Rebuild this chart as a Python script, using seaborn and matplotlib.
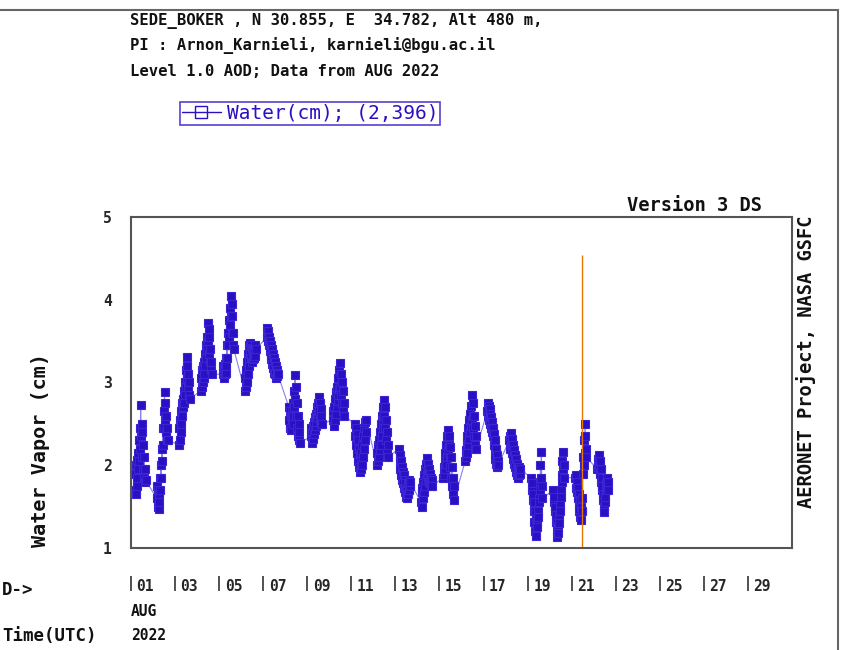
import matplotlib
matplotlib.use("Agg")
import pandas as pd
import seaborn as sns
from matplotlib import pyplot as plt
from matplotlib import transforms
from matplotlib.lines import Line2D

# sampling hours (UTC) of each day's readings, every half hour
hours = [4.0, 4.5, 5.0, 5.5, 6.0, 6.5, 7.0, 7.5, 8.0, 8.5, 9.0, 9.5, 10.0,
         10.5, 11.0, 11.5, 12.0, 12.5, 13.0, 13.5, 14.0, 14.5, 15.0, 15.5, 16.0]
days = list(range(1, 23))
# water vapour (cm), one row per day of August 2022
water = [
    [1.70, 1.90, 1.65, 2.00, 1.75, 2.06, 1.85, 2.15, 1.95, 2.30, 2.05, 2.45, 2.20, 2.73, 2.35, 2.50, 2.10, 2.40, 1.95, 2.25, 1.85, 2.10, 1.80, 1.95, 1.82],
    [1.60, 1.75, 1.50, 1.70, 1.47, 1.65, 1.55, 1.85, 1.70, 2.00, 1.85, 2.20, 2.05, 2.45, 2.25, 2.65, 2.45, 2.88, 2.55, 2.75, 2.40, 2.60, 2.30, 2.45, 2.30],
    [2.25, 2.45, 2.30, 2.55, 2.40, 2.65, 2.50, 2.75, 2.60, 2.80, 2.70, 2.90, 2.75, 3.00, 2.85, 3.15, 2.95, 3.31, 3.05, 3.20, 2.95, 3.10, 2.85, 3.00, 2.80],
    [2.90, 3.05, 2.95, 3.15, 3.00, 3.20, 3.05, 3.25, 3.10, 3.35, 3.20, 3.45, 3.30, 3.55, 3.40, 3.72, 3.50, 3.65, 3.35, 3.55, 3.25, 3.40, 3.15, 3.25, 3.10],
    [3.10, 3.20, 3.05, 3.18, 3.10, 3.22, 3.12, 3.30, 3.20, 3.45, 3.30, 3.60, 3.45, 3.75, 3.55, 3.90, 3.70, 4.05, 3.80, 3.95, 3.60, 3.80, 3.45, 3.60, 3.40],
    [2.90, 3.05, 2.95, 3.15, 3.00, 3.25, 3.10, 3.35, 3.20, 3.45, 3.30, 3.48, 3.35, 3.45, 3.30, 3.42, 3.25, 3.40, 3.28, 3.38, 3.30, 3.42, 3.32, 3.45, 3.40],
    [3.55, 3.66, 3.50, 3.62, 3.45, 3.55, 3.38, 3.50, 3.32, 3.45, 3.28, 3.40, 3.22, 3.35, 3.18, 3.30, 3.12, 3.25, 3.10, 3.20, 3.05, 3.15, 3.08, 3.12, 3.10],
    [2.70, 2.55, 2.65, 2.45, 2.60, 2.43, 2.55, 2.65, 2.50, 2.75, 2.60, 2.90, 2.70, 3.09, 2.80, 2.95, 2.60, 2.75, 2.45, 2.60, 2.35, 2.50, 2.30, 2.40, 2.27],
    [2.35, 2.45, 2.27, 2.40, 2.32, 2.48, 2.38, 2.52, 2.42, 2.58, 2.48, 2.62, 2.52, 2.70, 2.58, 2.75, 2.62, 2.83, 2.65, 2.75, 2.55, 2.68, 2.50, 2.60, 2.50],
    [2.55, 2.65, 2.48, 2.70, 2.55, 2.80, 2.62, 2.88, 2.70, 2.95, 2.78, 3.05, 2.85, 3.15, 2.92, 3.24, 2.95, 3.10, 2.85, 3.00, 2.75, 2.90, 2.65, 2.75, 2.60],
    [2.50, 2.35, 2.45, 2.25, 2.38, 2.15, 2.30, 2.05, 2.20, 1.98, 2.12, 1.92, 2.05, 1.95, 2.15, 2.00, 2.25, 2.10, 2.35, 2.20, 2.45, 2.30, 2.52, 2.40, 2.55],
    [2.00, 2.15, 2.05, 2.25, 2.10, 2.30, 2.18, 2.40, 2.25, 2.50, 2.35, 2.60, 2.45, 2.70, 2.55, 2.79, 2.60, 2.70, 2.45, 2.55, 2.30, 2.40, 2.15, 2.25, 2.10],
    [2.20, 2.05, 2.12, 1.95, 2.05, 1.88, 1.98, 1.82, 1.92, 1.78, 1.88, 1.72, 1.82, 1.68, 1.78, 1.62, 1.72, 1.60, 1.70, 1.65, 1.78, 1.70, 1.82, 1.75, 1.80],
    [1.55, 1.68, 1.50, 1.72, 1.60, 1.80, 1.68, 1.88, 1.75, 1.95, 1.82, 2.02, 1.90, 2.09, 1.95, 2.02, 1.85, 1.95, 1.80, 1.90, 1.78, 1.85, 1.75, 1.82, 1.75],
    [1.85, 1.98, 1.88, 2.05, 1.95, 2.15, 2.02, 2.25, 2.10, 2.35, 2.18, 2.43, 2.25, 2.35, 2.10, 2.22, 1.98, 2.10, 1.85, 1.98, 1.75, 1.85, 1.65, 1.75, 1.58],
    [2.05, 2.18, 2.10, 2.28, 2.15, 2.35, 2.25, 2.45, 2.32, 2.55, 2.40, 2.62, 2.48, 2.72, 2.55, 2.85, 2.60, 2.75, 2.45, 2.60, 2.35, 2.48, 2.25, 2.35, 2.20],
    [2.65, 2.75, 2.60, 2.72, 2.55, 2.68, 2.50, 2.62, 2.45, 2.58, 2.40, 2.52, 2.35, 2.45, 2.25, 2.38, 2.15, 2.30, 2.08, 2.20, 2.02, 2.12, 1.98, 2.05, 2.00],
    [2.30, 2.20, 2.35, 2.25, 2.39, 2.22, 2.32, 2.15, 2.25, 2.08, 2.18, 2.02, 2.12, 1.98, 2.08, 1.92, 2.02, 1.88, 1.98, 1.85, 1.95, 1.88, 1.98, 1.90, 1.95],
    [1.85, 1.70, 1.78, 1.58, 1.65, 1.45, 1.55, 1.32, 1.45, 1.20, 1.35, 1.15, 1.30, 1.25, 1.45, 1.38, 1.60, 1.55, 1.80, 1.70, 2.00, 1.85, 2.16, 1.75, 1.60],
    [1.70, 1.55, 1.62, 1.45, 1.50, 1.32, 1.40, 1.20, 1.30, 1.13, 1.25, 1.18, 1.38, 1.30, 1.52, 1.45, 1.70, 1.62, 1.88, 1.80, 2.05, 1.95, 2.16, 2.00, 1.85],
    [1.85, 1.72, 1.88, 1.68, 1.80, 1.60, 1.72, 1.52, 1.65, 1.45, 1.58, 1.38, 1.50, 1.34, 1.45, 1.60, 1.90, 2.10, 2.00, 2.30, 2.15, 2.50, 2.35, 2.20, 2.10],
    [1.95, 2.08, 1.98, 2.12, 2.00, 2.05, 1.90, 1.95, 1.80, 1.85, 1.70, 1.75, 1.58, 1.65, 1.50, 1.44, 1.55, 1.62, 1.70, 1.78, 1.75, 1.85, 1.72, 1.80, 1.70],
]
n_points = "2,396"
tick_days = [1, 3, 5, 7, 9, 11, 13, 15, 17, 19, 21, 23, 25, 27, 29]
tick_labels = ["01", "03", "05", "07", "09", "11", "13", "15", "17", "19",
               "21", "23", "25", "27", "29"]
marker_day = 21.49

rows = []
for d, vals in zip(days, water):
    for h, v in zip(hours, vals):
        rows.append({"day": d + h / 24.0, "water": v})
df = pd.DataFrame(rows)

sns.set_style("white")
plt.rcParams["font.family"] = ["DejaVu Sans Mono"]
plt.rcParams["font.weight"] = "bold"

blue = "#2a10c4"
fig = plt.figure(figsize=(8.46, 6.5), dpi=100)
ax = fig.add_axes([131 / 846, 1 - 548 / 650, 661 / 846, 331 / 650])

sns.lineplot(data=df, x="day", y="water", estimator=None, sort=False, ax=ax,
             color="#8a80ea", linewidth=0.8, marker="s", markersize=6,
             markerfacecolor=blue, markeredgecolor="#3a24d4", markeredgewidth=0.8)
ax.vlines(marker_day, 1, 4.54, color="#e87800", linewidth=1)

ax.set_xlim(1, 31)
ax.set_ylim(1, 5)
ax.set_xlabel("")
ax.set_ylabel("")
ax.set_yticks([1, 2, 3, 4, 5])
ax.set_yticklabels(["1", "2", "3", "4", "5"], fontsize=10.5, fontweight="bold")
ax.tick_params(axis="y", direction="in", length=5, width=1.2, pad=14, color="#444444")
ax.set_xticks(tick_days)
ax.set_xticklabels(tick_labels, ha="left", fontsize=10.5, fontweight="bold")
ax.tick_params(axis="x", length=0, pad=22)
shift = transforms.ScaledTranslation(4 / 72, 0, fig.dpi_scale_trans)
for lab in ax.get_xticklabels():
    lab.set_transform(lab.get_transform() + shift)
for s in ax.spines.values():
    s.set_color("#555555")
    s.set_linewidth(1.5)

# small tick bars in front of the day labels
sec = ax.secondary_xaxis(-0.13)
sec.set_xticks(tick_days)
sec.set_xticklabels([])
sec.tick_params(axis="x", direction="in", length=11, width=1.2, color="#333333")
sec.spines["bottom"].set_visible(False)

# legend
handle = Line2D([], [], color=blue, linewidth=1, marker="s", markersize=8,
                markerfacecolor="none", markeredgecolor=blue)
leg = fig.legend([handle], [f"Water(cm); ({n_points})"], loc="upper left",
                 bbox_to_anchor=(180 / 846, 1 - 102 / 650), frameon=True,
                 fancybox=False, handlelength=2.0, handletextpad=0.3,
                 borderpad=0.1, borderaxespad=0,
                 prop={"size": 14, "weight": "normal", "family": "DejaVu Sans Mono"})
leg.get_frame().set_edgecolor(blue)
leg.get_frame().set_linewidth(1.2)
for t in leg.get_texts():
    t.set_color(blue)

tk = dict(fontweight="bold", color="#111111")
fig.text(130 / 846, 1 - 21 / 650, "SEDE_BOKER , N 30.855, E  34.782, Alt 480 m,", va="center", fontsize=11.2, **tk)
fig.text(130 / 846, 1 - 46 / 650, "PI : Arnon_Karnieli, karnieli@bgu.ac.il", va="center", fontsize=11.2, **tk)
fig.text(130 / 846, 1 - 71 / 650, "Level 1.0 AOD; Data from AUG 2022", va="center", fontsize=11.2, **tk)
fig.text(762 / 846, 1 - 206 / 650, "Version 3 DS", ha="right", va="center", fontsize=13.5, **tk)
fig.text(806 / 846, 1 - 362 / 650, "AERONET Project, NASA GSFC", rotation=90,
         ha="center", va="center", fontsize=13.5, **tk)
fig.text(40 / 846, 1 - 450 / 650, "Water Vapor (cm)", rotation=90,
         ha="center", va="center", fontsize=14.5, **tk)
fig.text(131 / 846, 1 - 611 / 650, "AUG", va="center", fontsize=10.5, **tk)
fig.text(131 / 846, 1 - 636 / 650, "2022", va="center", fontsize=10.5, **tk)
fig.text(2 / 846, 1 - 636 / 650, "Time(UTC)", ha="left", va="center", fontsize=12.5, **tk)
fig.text(2 / 846, 1 - 590 / 650, "D->", ha="left", va="center", fontsize=12.5, **tk)

# outer frame
fig.add_artist(Line2D([0, 838 / 846], [1 - 10 / 650, 1 - 10 / 650], color="#666666", linewidth=1.5))
fig.add_artist(Line2D([838 / 846, 838 / 846], [1 - 10 / 650, 0], color="#666666", linewidth=1.5))

fig.savefig("out.png", dpi=100)
